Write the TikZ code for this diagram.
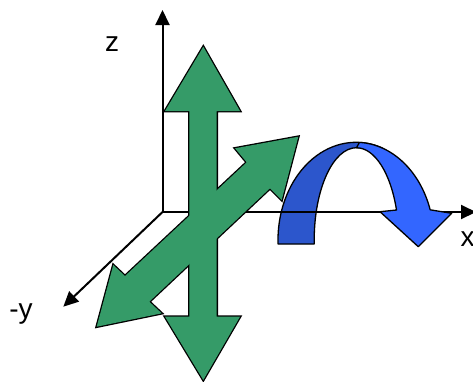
\documentclass[tikz,border=0pt]{standalone}
\usepackage{fontspec}
\setmainfont{Liberation Sans}
\usepackage{xcolor}
\usetikzlibrary{arrows.meta}

\definecolor{arrowgreen}{RGB}{53,155,104}
\definecolor{backblue}{RGB}{44,86,204}
\definecolor{frontblue}{RGB}{51,102,255}

% outlines of the two green arrows
\newcommand{\updownpath}{(203.3,46.7) -- (240,111) -- (216.7,111) -- (216.7,316.7) -- (240,316.7) -- (203.3,380) -- (165,316.7) -- (189.3,316.7) -- (189.3,111) -- (165,111) -- cycle}
\newcommand{\slantpath}{(298.3,136.7) -- (281.7,200) -- (270,188.3) -- (149.3,301.7) -- (161.7,313.3) -- (96.7,326.7) -- (113.3,265) -- (125,276) -- (246.7,162.3) -- (235,148.3) -- cycle}

\begin{document}
\begin{tikzpicture}[x=1pt,y=-1pt,
          axisline/.style={line width=2pt},
          axistip/.style={-{Triangle[width=14pt,length=15pt]}},
          lbl/.style={font=\fontsize{28}{32}\selectfont, inner sep=0pt, anchor=base},
          ribbon/.style={draw=black, line width=1.3pt, line join=round}
      ]
        \useasboundingbox (0,0) rectangle (473,381);

        \coordinate (origin) at (162.5,212);
        \coordinate (ztip) at (162.5,10);
        \coordinate (xtip) at (476,212);
        \coordinate (ytip) at (63.3,306.7);

        % back half of the turning arrow
        \filldraw[ribbon, fill=backblue] (278,244) -- (278,240)
            arc[start angle=180, end angle=290, x radius=78, y radius=97.7]
            -- (356.5,147.7)
            arc[start angle=270, end angle=180, x radius=42.3, y radius=92.3]
            -- (314.2,244) -- cycle;

        % axes
        \draw[axisline, {Triangle[width=14pt,length=15pt]}-{Triangle[width=14pt,length=15pt]}] (ztip) -- (origin) -- (xtip);
        \draw[axisline, axistip] (origin) -- (ytip);

        % front half with the head
        \filldraw[ribbon, fill=frontblue] (359.4,142.4)
            arc[start angle=272.5, end angle=342, x radius=78, y radius=97.7]
            -- (451.7,213.3) -- (418.3,246.7) -- (380,211.7) -- (396.5,210)
            arc[start angle=341, end angle=270, x radius=42.3, y radius=92.3]
            -- cycle;

        % green arrows, merged into one outline
        \draw[line width=2.6pt, line join=miter] \updownpath;
        \draw[line width=2.6pt, line join=miter] \slantpath;
        \fill[arrowgreen] \updownpath;
        \fill[arrowgreen] \slantpath;

        \node[lbl] (zlabel) at (112,51) {z};
        \node[lbl] (xlabel) at (467.5,246.7) {x};
        \node[lbl] (ylabel) at (21,318) {-y};
      \end{tikzpicture}
\end{document}
